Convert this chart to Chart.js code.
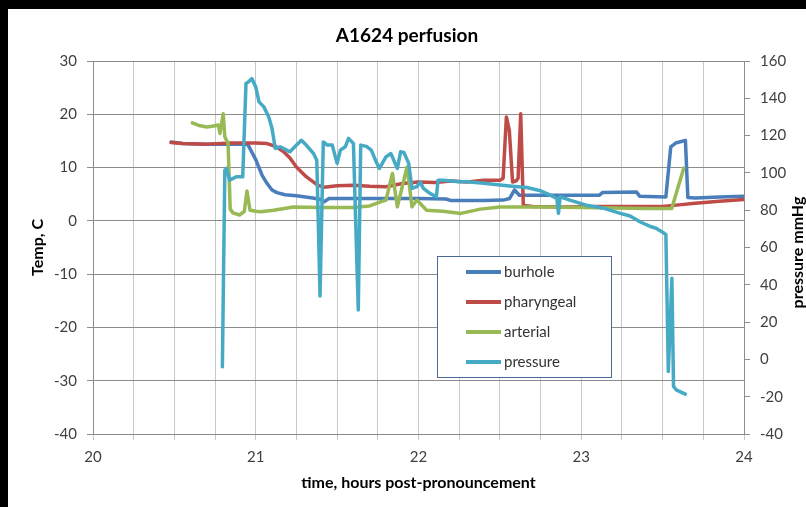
<!DOCTYPE html>
<html>
<head>
<meta charset="utf-8">
<script src="https://cdn.jsdelivr.net/npm/chart.js@4.4.1/dist/chart.umd.min.js"></script>
<style>
    body { margin: 0; background: #000; }
    #wrap { position: absolute; left: 8px; top: 9px; width: 798px; height: 498px; background: #fff; }
</style>
</head>
<body>
<div id="wrap"><canvas id="chart1"></canvas></div>
<script>
// Values: time in hours, temperatures in C, pressure in mmHg
const burholeTime = [20.48, 20.55, 20.70, 20.85, 20.95, 21.00, 21.04, 21.07, 21.10, 21.13, 21.18, 21.25, 21.35, 21.40, 21.42, 21.45, 21.60, 21.80, 22.00, 22.17, 22.20, 22.40, 22.52, 22.56, 22.59, 22.62, 22.80, 23.00, 23.11, 23.13, 23.34, 23.36, 23.52, 23.55, 23.58, 23.64, 23.655, 23.70, 23.85, 24.0];
const burholeTemp = [14.8, 14.5, 14.4, 14.4, 14.4, 11.5, 8.5, 7.0, 5.8, 5.3, 4.9, 4.7, 4.3, 4.0, 3.6, 4.2, 4.2, 4.2, 4.2, 4.1, 3.8, 3.8, 3.9, 4.2, 5.8, 4.8, 4.8, 4.8, 4.8, 5.3, 5.4, 4.6, 4.5, 13.9, 14.6, 15.1, 4.4, 4.3, 4.5, 4.6];

const pharyngealTime = [20.48, 20.55, 20.70, 20.85, 21.00, 21.07, 21.12, 21.17, 21.21, 21.25, 21.31, 21.38, 21.42, 21.50, 21.60, 21.70, 21.80, 21.90, 22.00, 22.10, 22.20, 22.30, 22.40, 22.50, 22.52, 22.54, 22.558, 22.578, 22.60, 22.612, 22.628, 22.644, 22.70, 22.90, 23.10, 23.30, 23.50, 23.60, 23.70, 23.85, 24.0];
const pharyngealTemp = [14.7, 14.5, 14.4, 14.6, 14.6, 14.5, 14.0, 13.0, 11.8, 10.1, 8.3, 6.7, 6.3, 6.6, 6.7, 6.5, 6.4, 7.0, 7.3, 7.2, 7.5, 7.3, 7.6, 7.6, 8.0, 19.5, 17.0, 7.3, 7.5, 8.0, 20.1, 2.9, 2.7, 2.6, 2.7, 2.7, 2.7, 3.0, 3.3, 3.7, 4.0];

const arterialTime = [20.61, 20.65, 20.70, 20.74, 20.77, 20.78, 20.80, 20.81, 20.83, 20.843, 20.86, 20.90, 20.93, 20.946, 20.965, 21.00, 21.03, 21.11, 21.23, 21.40, 21.60, 21.70, 21.77, 21.80, 21.84, 21.87, 21.93, 21.96, 21.99, 22.05, 22.15, 22.26, 22.38, 22.50, 22.60, 22.80, 23.00, 23.20, 23.40, 23.556, 23.63];
const arterialTemp = [18.4, 17.9, 17.6, 17.8, 18.0, 16.4, 20.1, 15.8, 14.5, 2.2, 1.5, 1.1, 1.8, 5.6, 2.0, 1.8, 1.7, 2.0, 2.6, 2.5, 2.5, 2.8, 3.6, 3.9, 8.9, 2.65, 10.1, 2.65, 3.9, 2.0, 1.8, 1.4, 2.2, 2.6, 2.6, 2.6, 2.5, 2.4, 2.3, 2.3, 9.9];

const pressureTime = [20.795, 20.81, 20.82, 20.84, 20.88, 20.92, 20.94, 20.955, 20.976, 21.00, 21.02, 21.05, 21.08, 21.10, 21.12, 21.15, 21.19, 21.21, 21.24, 21.28, 21.31, 21.355, 21.375, 21.395, 21.415, 21.44, 21.47, 21.50, 21.52, 21.55, 21.57, 21.60, 21.63, 21.645, 21.68, 21.71, 21.74, 21.76, 21.80, 21.83, 21.87, 21.89, 21.91, 21.94, 21.96, 21.99, 22.01, 22.03, 22.07, 22.11, 22.12, 22.15, 22.25, 22.30, 22.40, 22.56, 22.665, 22.75, 22.81, 22.85, 22.86, 22.87, 22.93, 23.03, 23.14, 23.24, 23.30, 23.36, 23.43, 23.46, 23.51, 23.52, 23.535, 23.557, 23.567, 23.583, 23.64];
const pressureMmHg = [-4, 101.5, 102.4, 96.1, 97.9, 97.9, 147.9, 148.8, 150.6, 146.1, 138.1, 135.4, 130.0, 123.8, 113.1, 114, 112.2, 111.3, 114, 117.5, 114.9, 110.4, 106.8, 34, 116.6, 114.9, 114.9, 105.1, 112.2, 114, 118.5, 115.8, 26.5, 114.9, 114.2, 112.2, 105.9, 102.4, 108.6, 110.4, 102.4, 111.3, 111, 105.1, 91.7, 92.6, 95.2, 91.7, 89.0, 87.2, 96.1, 96.1, 95.2, 95.2, 94.4, 93.0, 92.2, 90.4, 88.1, 86.3, 78.3, 87.2, 85.4, 82.7, 81.0, 78.3, 76.9, 73.8, 71.1, 70.3, 67.6, 67, -6.5, 43.5, -14.5, -16.3, -18.6];

const seriesNames = ["burhole", "pharyngeal", "arterial", "pressure"];
const seriesColors = ["#4a7ebb", "#be4b48", "#98b954", "#46aac5"];
const rightTitle = "pressure mmHg";

function toPoints(xs, ys) {
    return xs.map((x, i) => ({ x: x, y: ys[i] }));
}

// Legend box inside the plot, plus the right axis title written bottom-to-top
const extras = {
    id: "extras",
    afterDraw(chart) {
        const ctx = chart.ctx;
        ctx.save();
        ctx.fillStyle = "#fff";
        ctx.fillRect(429, 247, 174, 121);
        ctx.strokeStyle = "#4a6a9a";
        ctx.lineWidth = 1;
        ctx.strokeRect(429.5, 247.5, 174, 121);
        ctx.font = "15px Lato";
        ctx.textBaseline = "middle";
        chart.data.datasets.forEach((ds, i) => {
            const y = 263 + i * 30;
            ctx.strokeStyle = ds.borderColor;
            ctx.lineWidth = 4;
            ctx.beginPath();
            ctx.moveTo(458, y);
            ctx.lineTo(493, y);
            ctx.stroke();
            ctx.fillStyle = "#333";
            ctx.fillText(ds.label, 496, y);
        });

        ctx.translate(795, 243.5);
        ctx.rotate(-Math.PI / 2);
        ctx.font = "bold 16px Lato";
        ctx.fillStyle = "#000";
        ctx.textAlign = "center";
        ctx.textBaseline = "alphabetic";
        ctx.fillText(rightTitle, 0, 0);
        ctx.restore();
    }
};

Chart.defaults.font.family = "Lato";
Chart.defaults.color = "#404040";

const chartData = {
    datasets: [
        { label: seriesNames[0], data: toPoints(burholeTime, burholeTemp), borderColor: seriesColors[0], yAxisID: "y", order: 4 },
        { label: seriesNames[1], data: toPoints(pharyngealTime, pharyngealTemp), borderColor: seriesColors[1], yAxisID: "y", order: 3 },
        { label: seriesNames[2], data: toPoints(arterialTime, arterialTemp), borderColor: seriesColors[2], yAxisID: "y", order: 2 },
        { label: seriesNames[3], data: toPoints(pressureTime, pressureMmHg), borderColor: seriesColors[3], yAxisID: "y2", order: 1 }
    ]
};

const chartConfig = {
    type: "line",
    data: chartData,
    options: {
        responsive: true,
        maintainAspectRatio: false,
        animation: false,
        elements: {
            point: { radius: 0 },
            line: { borderWidth: 3.5, tension: 0, borderJoinStyle: "round", borderCapStyle: "round" }
        },
        plugins: {
            legend: { display: false },
            tooltip: { enabled: false },
            title: {
                display: true,
                text: "A1624 perfusion",
                color: "#000",
                font: { size: 19, weight: "bold" },
                padding: { top: 15.4, bottom: 13.8 }
            }
        },
        scales: {
            x: {
                type: "linear",
                min: 20,
                max: 24,
                ticks: {
                    stepSize: 0.25,
                    autoSkip: false,
                    maxRotation: 0,
                    padding: 8,
                    font: { size: 15 },
                    callback: (v) => Number.isInteger(v) ? v : ""
                },
                grid: { color: "#c8c8c8", tickLength: 6 },
                border: { color: "#8c8c8c" },
                title: {
                    display: true,
                    text: "time, hours post-pronouncement",
                    color: "#000",
                    font: { size: 16, weight: "bold" },
                    padding: { top: 0, bottom: 14.9 }
                },
                afterFit(scale) { scale.height = 73; }
            },
            y: {
                position: "left",
                min: -40,
                max: 30,
                ticks: { stepSize: 10, padding: 10, font: { size: 15 } },
                grid: { color: "#8c8c8c", tickLength: 6 },
                border: { color: "#8c8c8c" },
                title: {
                    display: true,
                    text: "Temp, C",
                    color: "#000",
                    font: { size: 16, weight: "bold" },
                    padding: { top: 20.4, bottom: 0 }
                },
                afterFit(scale) { scale.width = 85; }
            },
            y2: {
                position: "right",
                min: -40,
                max: 160,
                ticks: { stepSize: 20, padding: 10, font: { size: 15 } },
                grid: { drawOnChartArea: false, color: "#8c8c8c", tickLength: 6 },
                border: { color: "#8c8c8c" },
                afterFit(scale) { scale.width = 62; }
            }
        }
    },
    plugins: [extras]
};

new Chart(document.getElementById("chart1"), chartConfig);
</script>
</body>
</html>
